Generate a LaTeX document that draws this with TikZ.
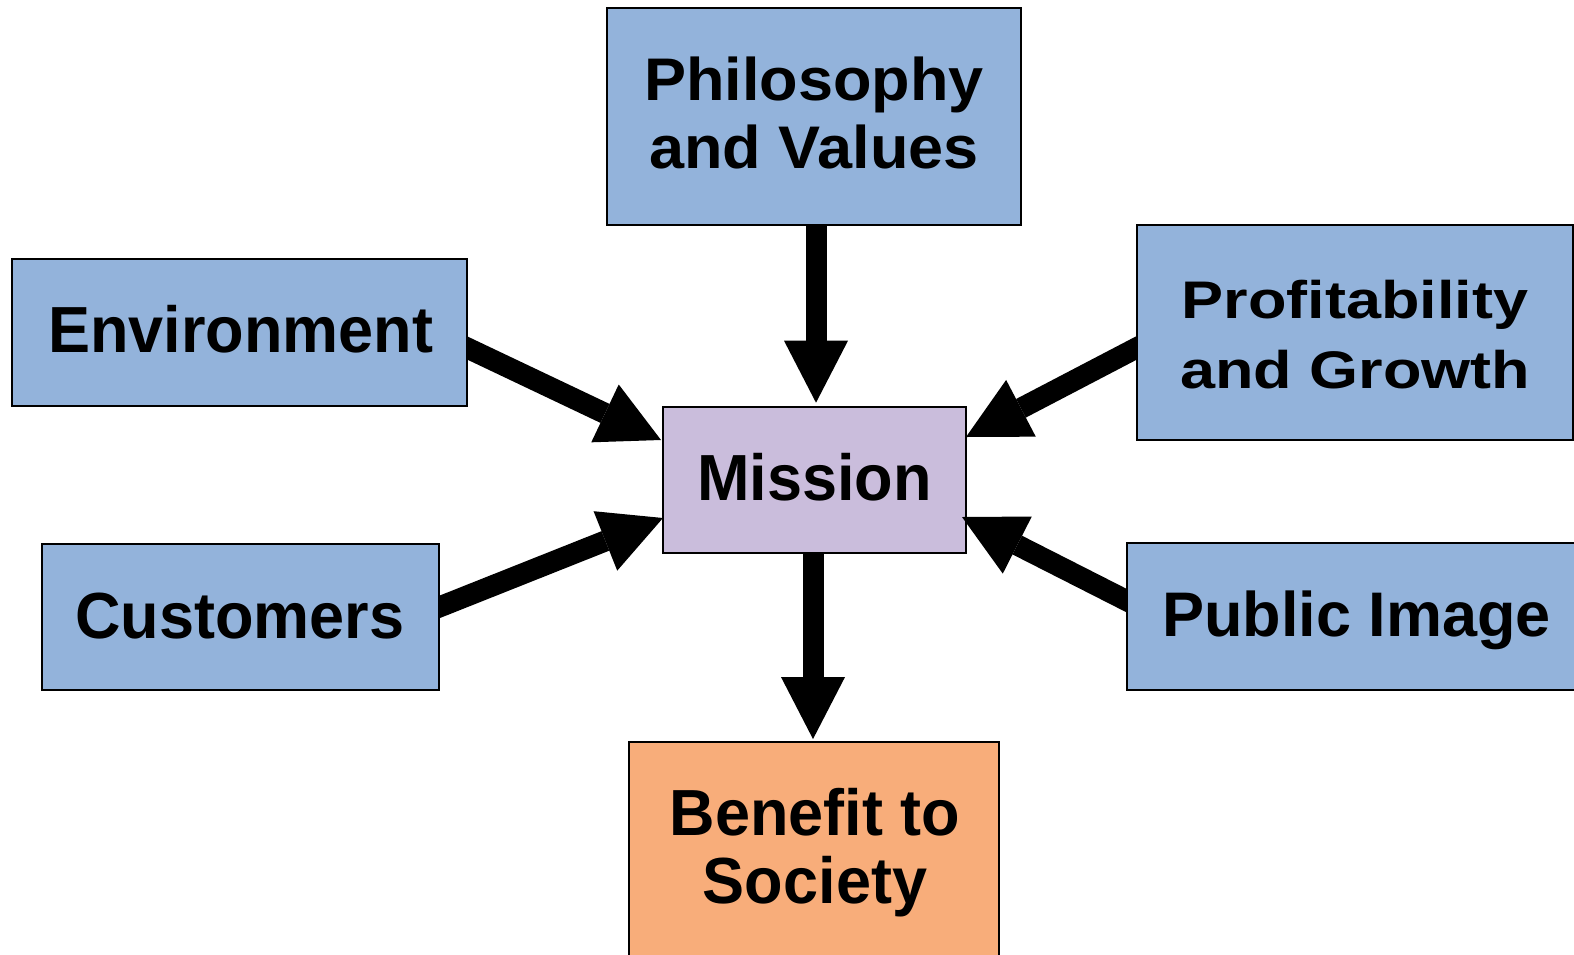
\documentclass[tikz,border=0pt]{standalone}
\usepackage{fontspec}
\setmainfont{Liberation Sans}
\usepackage{graphicx}
\usetikzlibrary{arrows.meta,calc}
\pgfdeclarelayer{bg}
\pgfsetlayers{bg,main}
\definecolor{boxblue}{HTML}{93B3DB}
\definecolor{boxpurple}{HTML}{CABDDC}
\definecolor{boxorange}{HTML}{F8AD7A}
\newcommand{\lbl}[3]{\scalebox{1}[#1]{\fontsize{63}{#2}\selectfont\bfseries\begin{tabular}[t]{@{}c@{}}#3\end{tabular}}}
\begin{document}
\begin{tikzpicture}[x=1pt,y=-1pt,
  box/.style={draw=black, line width=1.8pt, inner sep=0pt, outer sep=0pt},
  lbltxt/.style={anchor=base, inner sep=0pt, outer sep=0pt},
  arr/.style={line width=21pt, -{Triangle[length=62pt,width=64pt,line width=0pt]}}]
\useasboundingbox (0,0) rectangle (1574,954);
\clip (0,0) rectangle (1574,954);

\begin{pgfonlayer}{bg}
\fill[white] (0,0) rectangle (1574,954);
\node[box, fill=boxpurple, minimum width=302.4pt, minimum height=146pt] (mis) at (814.5,479.7) {};
\node[lbltxt] (mist) at (814.5,500) {\lbl{1.035}{68}{Mission}};
\end{pgfonlayer}

\node[box, fill=boxblue, minimum width=413.4pt, minimum height=216.7pt] (phil) at (814,116.6) {};
\node[lbltxt] (philt) at (814,100) {\lbl{0.955}{71.2}{Philosophy\\and Values}};

\node[box, fill=boxblue, minimum width=455pt, minimum height=146.4pt] (env) at (239.8,332.5) {};
\node[lbltxt] (envt) at (240.8,352.7) {\lbl{1.035}{68}{Environment}};

\node[box, fill=boxblue, minimum width=435.7pt, minimum height=215pt] (prof) at (1355.2,332.5) {};
\node[lbltxt] (proft) at (1355,318.3) {\lbl{0.84}{83.3}{Profitability\\and Growth}};

\node[box, fill=boxblue, minimum width=397.6pt, minimum height=146pt] (cust) at (240.5,617) {};
\node[lbltxt] (custt) at (240,638.3) {\lbl{1.035}{68}{Customers}};

\node[box, fill=boxblue, minimum width=460pt, minimum height=146.7pt] (pub) at (1356.8,616.7) {};
\node[lbltxt] (pubt) at (1356.7,636.7) {\lbl{1.0}{68}{Public Image}};

\node[box, fill=boxorange, minimum width=370pt, minimum height=216.3pt] (ben) at (814.3,849.9) {};
\node[lbltxt] (bent) at (815,835) {\lbl{1.035}{66}{Benefit to\\Society}};

\begin{pgfonlayer}{bg}
\draw[arr] ([xshift=2pt,yshift=10pt]phil.south) -- ([xshift=1.5pt,yshift=4pt]mis.north);
\draw[arr] ([xshift=-1.5pt]mis.south) -- ([xshift=-1.3pt,yshift=2.7pt]ben.north);
\coordinate (es) at ([yshift=-15.5pt]env.east);
\coordinate (ee) at ([xshift=-2.3pt,yshift=39.7pt]mis.west);
\draw[arr] ($(es)!-20pt!(ee)$) -- (ee);
\coordinate (cs) at ([yshift=10pt]cust.east);
\coordinate (ce) at ([xshift=-0.3pt,yshift=-38.3pt]mis.west);
\draw[arr] ($(cs)!-20pt!(ce)$) -- (ce);
\coordinate (ps) at ([yshift=-15pt]prof.west);
\coordinate (pe) at ([xshift=0.3pt,yshift=42.7pt]mis.east);
\draw[arr] ($(ps)!-20pt!(pe)$) -- (pe);
\coordinate (us) at ([yshift=16pt]pub.west);
\coordinate (ue) at ([xshift=-3.7pt,yshift=-37.3pt]mis.east);
\draw[arr] ($(us)!-20pt!(ue)$) -- (ue);
\end{pgfonlayer}
\end{tikzpicture}
\end{document}
